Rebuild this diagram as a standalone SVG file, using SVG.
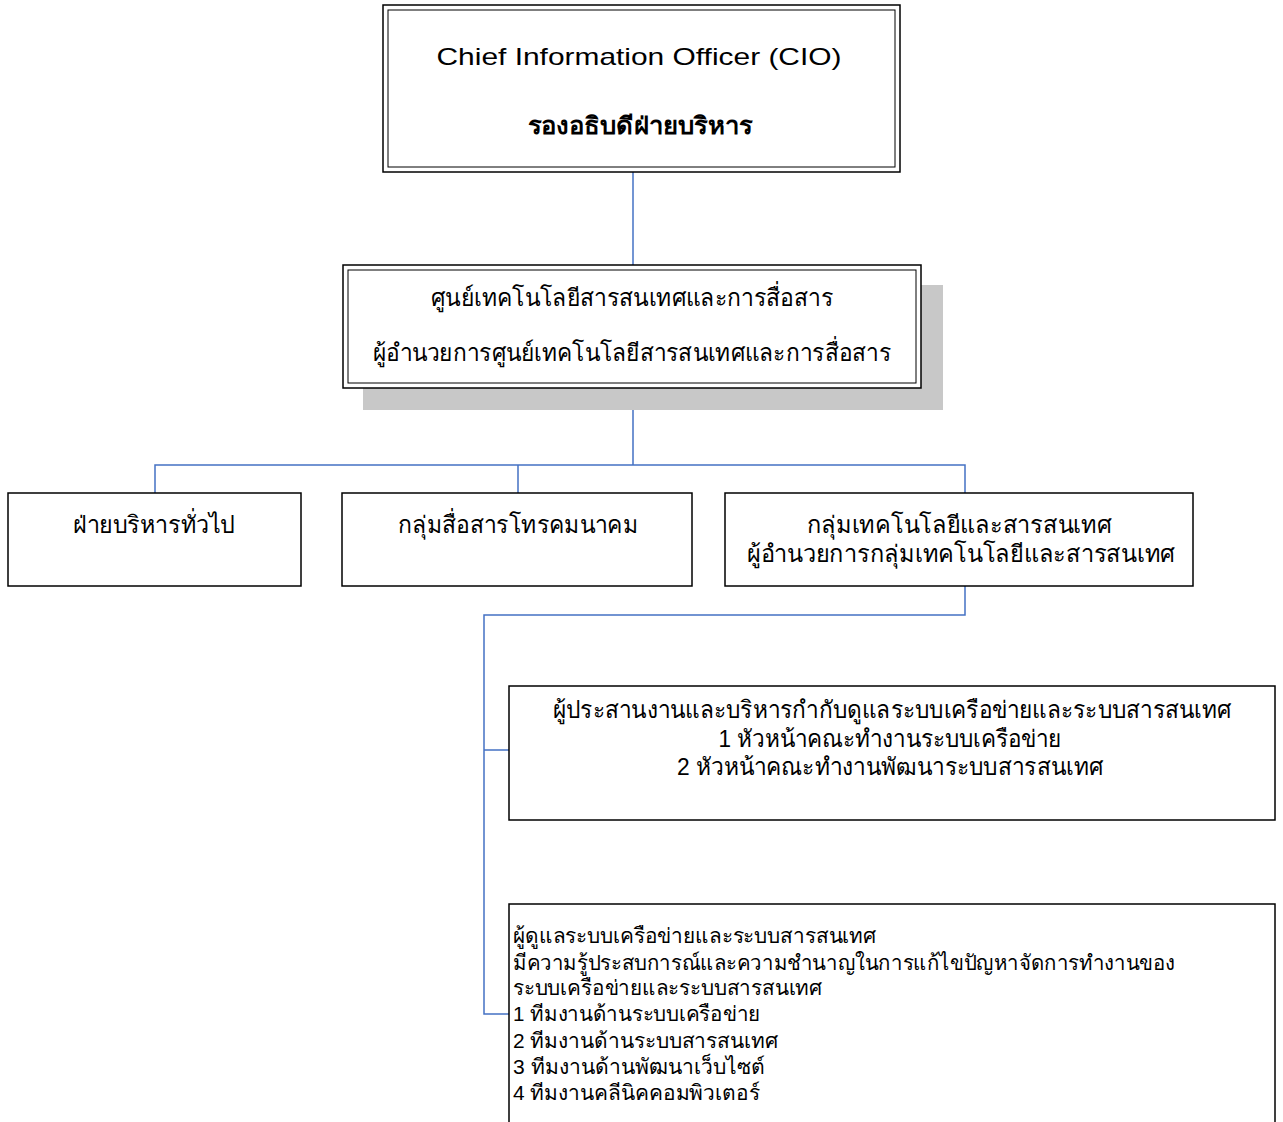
<svg xmlns="http://www.w3.org/2000/svg" width="1283" height="1122" viewBox="0 0 1283 1122">
<style>
text{font-family:"Liberation Sans","DejaVu Sans",sans-serif;font-size:24px;fill:#000}
.c{text-anchor:middle}
.b{font-weight:bold}
.e{font-size:21px}
.box{fill:#fff;stroke:#000;stroke-width:1.5}
.in{fill:none;stroke:#000;stroke-width:1}
.con{fill:none;stroke:#4472C4;stroke-width:1.5}
</style>
<rect width="1283" height="1122" fill="#fff"/>
<g id="connectors">
<path class="con" d="M633 172V265"/>
<path class="con" d="M633 388V465M155 493V465H965V493M518 465V493"/>
<path class="con" d="M965 586V615H484V1014H509M484 750H509"/>
</g>
<g id="cio">
<rect class="box" x="383" y="5" width="517" height="167" stroke-width="2"/>
<rect class="in" x="388" y="10" width="507" height="157"/>
<text class="c" x="639" y="65" font-size="28" textLength="405" lengthAdjust="spacingAndGlyphs">Chief Information Officer (CIO)</text>
<text class="c b" x="640" y="134" font-size="28" textLength="225" lengthAdjust="spacingAndGlyphs">รองอธิบดีฝ่ายบริหาร</text>
</g>
<g id="ictc">
<rect x="363" y="285" width="580" height="125" fill="#c8c8c8"/>
<rect class="box" x="343" y="265" width="578" height="123" stroke-width="2"/>
<rect class="in" x="348" y="270" width="568" height="113"/>
<text class="c" x="632" y="306" textLength="402" lengthAdjust="spacingAndGlyphs">ศูนย์เทคโนโลยีสารสนเทศและการสื่อสาร</text>
<text class="c" x="632" y="361" textLength="518" lengthAdjust="spacingAndGlyphs">ผู้อำนวยการศูนย์เทคโนโลยีสารสนเทศและการสื่อสาร</text>
</g>
<g id="admin">
<rect class="box" x="8" y="493" width="293" height="93"/>
<text class="c" x="154" y="533" textLength="162" lengthAdjust="spacingAndGlyphs">ฝ่ายบริหารทั่วไป</text>
</g>
<g id="telecom">
<rect class="box" x="342" y="493" width="350" height="93"/>
<text class="c" x="518" y="533" textLength="240" lengthAdjust="spacingAndGlyphs">กลุ่มสื่อสารโทรคมนาคม</text>
</g>
<g id="itgroup">
<rect class="box" x="725" y="493" width="468" height="93"/>
<text class="c" x="959" y="533" textLength="305" lengthAdjust="spacingAndGlyphs">กลุ่มเทคโนโลยีและสารสนเทศ</text>
<text class="c" x="961" y="562" textLength="428" lengthAdjust="spacingAndGlyphs">ผู้อำนวยการกลุ่มเทคโนโลยีและสารสนเทศ</text>
</g>
<g id="coordinator">
<rect class="box" x="509" y="686" width="766" height="134"/>
<text class="c" x="892" y="718" textLength="678" lengthAdjust="spacingAndGlyphs">ผู้ประสานงานและบริหารกำกับดูแลระบบเครือข่ายและระบบสารสนเทศ</text>
<text class="c" x="890" y="747" textLength="343" lengthAdjust="spacingAndGlyphs">1 หัวหน้าคณะทำงานระบบเครือข่าย</text>
<text class="c" x="890" y="775" textLength="426" lengthAdjust="spacingAndGlyphs">2 หัวหน้าคณะทำงานพัฒนาระบบสารสนเทศ</text>
</g>
<g id="admins">
<rect class="box" x="509" y="904" width="766" height="240"/>
<text class="e" x="513" y="943" textLength="363" lengthAdjust="spacingAndGlyphs">ผู้ดูแลระบบเครือข่ายและระบบสารสนเทศ</text>
<text class="e" x="513" y="970" textLength="662" lengthAdjust="spacingAndGlyphs">มีความรู้ประสบการณ์และความชำนาญในการแก้ไขปัญหาจัดการทำงานของ</text>
<text class="e" x="513" y="995" textLength="309" lengthAdjust="spacingAndGlyphs">ระบบเครือข่ายและระบบสารสนเทศ</text>
<text class="e" x="513" y="1021" textLength="247" lengthAdjust="spacingAndGlyphs">1 ทีมงานด้านระบบเครือข่าย</text>
<text class="e" x="513" y="1048" textLength="265" lengthAdjust="spacingAndGlyphs">2 ทีมงานด้านระบบสารสนเทศ</text>
<text class="e" x="513" y="1074" textLength="252" lengthAdjust="spacingAndGlyphs">3 ทีมงานด้านพัฒนาเว็บไซต์</text>
<text class="e" x="513" y="1100" textLength="247" lengthAdjust="spacingAndGlyphs">4 ทีมงานคลีนิคคอมพิวเตอร์</text>
</g>
</svg>
